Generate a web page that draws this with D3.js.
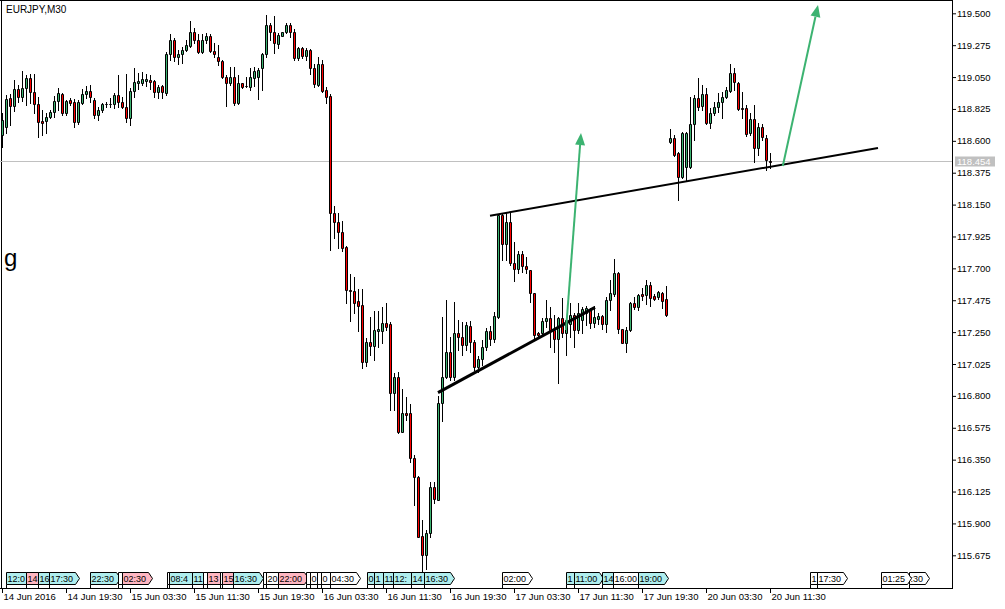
<!DOCTYPE html>
<html><head><meta charset="utf-8">
<script src="https://cdn.jsdelivr.net/npm/d3@7"></script>
<style>html,body{margin:0;padding:0;background:#fff;overflow:hidden}</style>
</head><body><svg id="c" width="1005" height="609"></svg>
<script>
const symbolTitle = "EURJPY,M30";
const chartNote = "g";
const open = [118.641,118.696,118.900,118.846,118.964,118.912,118.971,119.041,118.943,118.860,118.740,118.740,118.766,118.801,118.883,118.931,118.794,118.888,118.876,118.735,118.869,118.931,118.952,118.888,118.782,118.818,118.858,118.858,118.860,118.924,118.876,118.841,118.759,118.952,119.010,119.010,119.025,119.029,119.025,118.947,118.987,118.940,119.213,119.312,119.194,119.213,119.241,119.269,119.366,119.312,119.229,119.312,119.340,119.236,119.194,119.166,119.048,119.010,119.048,118.865,119.006,118.985,118.982,119.041,119.048,119.112,119.213,119.418,119.370,119.283,119.342,119.366,119.418,119.370,119.187,119.253,119.201,119.241,119.112,118.994,119.142,118.959,118.917,118.089,118.029,117.959,117.849,117.547,117.542,117.472,117.442,117.039,117.183,117.152,117.260,117.260,117.312,117.307,116.823,116.931,116.547,116.682,116.677,116.360,116.230,115.811,115.677,115.830,116.159,116.066,116.748,116.936,117.112,116.936,117.242,117.218,117.159,117.293,117.183,117.006,117.058,117.147,117.260,117.199,117.359,118.077,117.870,118.025,117.736,117.694,117.802,117.717,117.689,117.528,117.242,117.242,117.331,117.348,117.265,117.199,117.348,117.242,117.307,117.371,117.265,117.336,117.383,117.411,117.317,117.345,117.364,117.307,117.477,117.519,117.665,117.270,117.176,117.265,117.458,117.425,117.519,117.512,117.583,117.505,117.500,117.528,117.482,118.590,118.618,118.512,118.347,118.418,118.418,118.717,118.900,118.848,118.929,118.728,118.794,118.837,118.876,118.912,118.954,119.077,119.006,118.830,118.830,118.653,118.752,118.552,118.700,118.618,118.458];
const high = [118.797,118.924,118.931,119.029,118.994,119.095,119.065,119.072,119.072,118.907,118.818,118.794,118.818,118.917,118.971,118.936,118.888,118.900,118.893,118.888,118.964,118.987,118.994,118.900,118.841,118.869,118.876,118.900,118.936,119.065,118.912,119.072,118.971,119.112,119.081,119.088,119.072,119.065,119.029,118.994,118.994,119.229,119.354,119.324,119.241,119.264,119.312,119.448,119.394,119.354,119.354,119.359,119.354,119.288,119.276,119.171,119.065,119.123,119.123,119.065,119.010,119.053,119.112,119.123,119.112,119.222,119.488,119.434,119.481,119.363,119.370,119.434,119.434,119.387,119.264,119.264,119.253,119.246,119.142,119.194,119.171,118.982,118.931,118.140,118.089,118.034,117.858,117.660,117.637,117.552,117.552,117.209,117.357,117.401,117.401,117.430,117.454,117.322,116.964,116.971,116.847,116.794,116.743,116.383,116.235,115.924,115.854,116.195,116.195,116.799,117.355,117.477,117.218,117.463,117.336,117.322,117.322,117.329,117.195,117.082,117.195,117.279,117.293,117.392,118.085,118.085,118.089,118.089,117.888,117.825,117.825,117.782,117.689,117.528,117.253,117.348,117.477,117.430,117.371,117.359,117.489,117.359,117.454,117.387,117.454,117.430,117.434,117.418,117.434,117.387,117.371,117.500,117.618,117.764,117.677,117.270,117.284,117.465,117.496,117.519,117.559,117.618,117.606,117.519,117.542,117.535,117.576,118.684,118.641,118.523,118.662,118.665,118.912,118.924,119.041,118.994,118.971,118.834,118.876,118.936,118.947,118.982,119.142,119.112,119.013,118.947,118.853,118.794,118.853,118.724,118.717,118.641,118.516];
const low = [118.557,118.658,118.712,118.813,118.876,118.883,118.853,118.867,118.794,118.629,118.641,118.658,118.759,118.766,118.818,118.782,118.782,118.853,118.700,118.719,118.860,118.900,118.876,118.759,118.747,118.806,118.841,118.841,118.830,118.841,118.830,118.735,118.712,118.912,118.964,118.994,118.987,118.964,118.912,118.900,118.902,118.924,119.171,119.166,119.142,119.147,119.236,119.264,119.288,119.222,119.222,119.288,119.229,119.194,119.135,119.041,118.846,118.994,118.853,118.860,118.971,118.982,118.959,118.987,118.893,118.959,119.194,119.312,119.218,119.253,119.340,119.359,119.335,119.171,119.171,119.183,119.171,119.072,118.982,118.987,118.947,118.865,117.830,117.912,117.842,117.825,117.458,117.331,117.383,117.260,116.997,117.011,117.089,117.053,117.147,117.176,117.265,116.701,116.701,116.538,116.547,116.630,116.336,116.030,115.804,115.564,115.578,115.802,116.042,116.066,116.625,116.924,116.912,116.912,117.124,117.089,117.124,117.110,116.983,116.969,117.018,117.124,117.159,117.180,117.350,117.759,117.759,117.724,117.613,117.665,117.677,117.665,117.465,117.207,117.207,117.237,117.288,117.147,117.112,116.889,117.218,117.089,117.218,117.147,117.246,117.246,117.300,117.277,117.284,117.307,117.270,117.253,117.406,117.505,117.246,117.171,117.112,117.260,117.411,117.406,117.477,117.449,117.434,117.477,117.482,117.418,117.364,118.583,118.495,118.183,118.338,118.317,118.406,118.606,118.818,118.818,118.717,118.693,118.782,118.806,118.759,118.900,118.947,118.959,118.818,118.759,118.636,118.641,118.449,118.500,118.606,118.394,118.406];
const close = [118.747,118.893,118.846,118.964,118.912,118.971,119.041,118.943,118.860,118.731,118.728,118.766,118.801,118.883,118.936,118.794,118.883,118.869,118.735,118.876,118.931,118.952,118.912,118.782,118.818,118.860,118.862,118.862,118.924,118.876,118.841,118.759,118.952,119.017,119.022,119.036,119.034,119.017,118.947,118.978,118.947,119.213,119.312,119.190,119.213,119.241,119.276,119.366,119.312,119.229,119.312,119.340,119.236,119.213,119.166,119.048,119.006,119.048,118.869,119.010,118.982,118.988,119.048,119.093,119.100,119.213,119.418,119.370,119.288,119.347,119.366,119.418,119.370,119.183,119.253,119.201,119.241,119.112,118.999,119.142,118.954,118.907,118.089,118.029,117.959,117.842,117.547,117.538,117.458,117.437,117.039,117.183,117.152,117.265,117.272,117.312,117.288,116.823,116.931,116.547,116.682,116.667,116.360,116.230,115.806,115.677,115.830,116.159,116.070,116.748,116.936,117.112,116.936,117.242,117.218,117.159,117.300,117.183,117.006,117.058,117.147,117.260,117.199,117.364,118.077,117.870,118.025,117.736,117.694,117.802,117.717,117.694,117.528,117.230,117.230,117.331,117.348,117.265,117.199,117.348,117.246,117.336,117.371,117.265,117.387,117.411,117.418,117.317,117.355,117.364,117.307,117.477,117.524,117.665,117.270,117.176,117.265,117.458,117.425,117.512,117.505,117.583,117.489,117.486,117.535,117.472,117.371,118.618,118.500,118.347,118.653,118.653,118.717,118.900,118.841,118.929,118.728,118.794,118.837,118.876,118.912,118.959,119.077,119.017,118.825,118.823,118.648,118.752,118.547,118.700,118.627,118.465,118.454];

const priceTicks = [119.500,119.275,119.050,118.825,118.600,118.375,118.150,117.925,117.700,117.475,117.250,117.025,116.800,116.575,116.350,116.125,115.900,115.675];
const timeTickIndex = [0,16,32,48,64,80,96,112,128,144,160,176,192];
const timeTickLabels = ["14 Jun 2016","14 Jun 19:30","15 Jun 03:30","15 Jun 11:30","15 Jun 19:30","16 Jun 03:30","16 Jun 11:30","16 Jun 19:30","17 Jun 03:30","17 Jun 11:30","17 Jun 19:30","20 Jun 03:30","20 Jun 11:30"];

// drawn objects (bar index, price)
const trendStart = [[109,116.823],[122,118.072]];
const trendEnd   = [[148.25,117.425],[219,118.550]];
const arrowStart = [[141,117.265],[195.2,118.422]];
const arrowEnd   = [[144.75,118.655],[204,119.559]];

// event labels along the time axis (drawn in this order, later ones on top)
const eventIndex = [1,6,8.9,11.8,22,29.1,29.9,41.2,41.75,47.6,50.25,51.2,54.5,55.0,57.8,65.2,66,69.1,76,77,78.7,79.7,82,91.2,93,95.2,97.8,102.2,105.5,124.9,141,143,150.1,152.8,159.1,202,203.8,226.75,219.75];
const eventText = ["12:00","14:00","16:00","17:30","22:30","00:30","02:30","08:00","08:45","11:00","12:00","13:00","14:00","15:00","16:30","19:00","20:00","22:00","00:00","01:00","02:00","03:00","04:30","08:00","10:00","11:00","12:30","14:00","16:30","02:00","10:00","11:00","14:00","16:00","19:00","16:00","17:30",":30","01:25"];
const eventKind = ["b","r","b","b","b","w","r","w","b","b","w","r","w","r","b","w","w","r","w","w","w","w","w","b","b","b","b","b","b","w","b","b","b","w","b","w","w","w","w"];

const W = 1005, H = 609, plotRight = 952, axisY = 588;
const font = "'Liberation Sans', Arial, sans-serif";
const green = "#3cb371", red = "#ff0000";
const kindFill = {b:"#afeeee", r:"#ffb6c1", w:"#ffffff"};

const svg = d3.select("#c");
const x = d3.scaleLinear().domain([0, 192]).range([2, 770]);
const y = d3.scaleLinear().domain([115.675, 119.5]).range([555.3, 13.3]);

svg.append("rect").attr("width", W).attr("height", H).attr("fill", "#fff");

// frame
svg.append("line").attr("x1", 0).attr("x2", plotRight).attr("y1", 0.5).attr("y2", 0.5).attr("stroke", "#000");
svg.append("line").attr("x1", 1.5).attr("x2", 1.5).attr("y1", 0).attr("y2", axisY).attr("stroke", "#000");

// last price line
const lastPrice = close[close.length - 1];
const ly = Math.floor(y(lastPrice)) + 0.5;
svg.append("line").attr("x1", 0).attr("x2", plotRight).attr("y1", ly).attr("y2", ly).attr("stroke", "#c0c0c0");

// candles
const bars = d3.range(open.length).map(i => ({i, o: open[i], h: high[i], l: low[i], c: close[i]}));
const cg = svg.append("g");
cg.selectAll("line.w").data(bars).join("line").attr("class", "w")
  .attr("x1", d => Math.round(x(d.i)) + 0.5).attr("x2", d => Math.round(x(d.i)) + 0.5)
  .attr("y1", d => Math.round(y(d.h))).attr("y2", d => Math.round(y(d.l)) + 1)
  .attr("stroke", "#000").attr("stroke-width", 1);
cg.selectAll("path.b").data(bars).join("path").attr("class", "b")
  .attr("d", d => {
    const cx = Math.round(x(d.i));
    const yt = Math.round(y(Math.max(d.o, d.c))), yb = Math.round(y(Math.min(d.o, d.c)));
    return `M${cx - 0.5},${yt + 0.5}H${cx + 1.5}V${yb + 0.5}H${cx - 0.5}Z`;
  })
  .attr("fill", d => d.c >= d.o ? green : red)
  .attr("stroke", "#000").attr("stroke-width", 1);

// trend lines
const tw = [3, 2];
svg.selectAll("line.t").data(trendStart).join("line").attr("class", "t")
  .attr("x1", d => x(d[0])).attr("y1", d => y(d[1]))
  .attr("x2", (d, i) => x(trendEnd[i][0])).attr("y2", (d, i) => y(trendEnd[i][1]))
  .attr("stroke", "#000").attr("stroke-width", (d, i) => tw[i]);

// arrows
arrowStart.forEach((s, i) => {
  const e = arrowEnd[i];
  const x1 = x(s[0]), y1 = y(s[1]), x2 = x(e[0]), y2 = y(e[1]);
  const a = Math.atan2(y2 - y1, x2 - x1);
  const L = 12, hw = 5;
  const bx = x2 - L * Math.cos(a), by = y2 - L * Math.sin(a);
  svg.append("line").attr("x1", x1).attr("y1", y1).attr("x2", bx).attr("y2", by)
    .attr("stroke", green).attr("stroke-width", 2);
  const px = -Math.sin(a), py = Math.cos(a);
  svg.append("path").attr("d", `M${x2},${y2}L${bx + px * hw},${by + py * hw}L${bx - px * hw},${by - py * hw}Z`)
    .attr("fill", green);
});

// right price axis
svg.append("line").attr("x1", plotRight + 0.5).attr("x2", plotRight + 0.5).attr("y1", 0).attr("y2", axisY + 1).attr("stroke", "#000");
const ya = svg.append("g").attr("transform", `translate(${plotRight},0)`)
  .call(d3.axisRight(y).tickValues(priceTicks).tickSize(4).tickPadding(1).tickFormat(d3.format(".3f")));
ya.select(".domain").remove();
ya.selectAll("text").attr("font-family", font).attr("font-size", "9.5px").attr("fill", "#000");

// last price label
const lbl = svg.append("g");
lbl.append("rect").attr("x", 955).attr("y", ly - 5).attr("width", 40).attr("height", 10).attr("fill", "#c0c0c0");
lbl.append("text").attr("x", 957).attr("y", ly).attr("dy", "0.34em").text(d3.format(".3f")(lastPrice))
  .attr("font-family", font).attr("font-size", "9.5px").attr("fill", "#fff");

// bottom time axis
svg.append("line").attr("x1", 0).attr("x2", plotRight + 1).attr("y1", axisY + 0.5).attr("y2", axisY + 0.5).attr("stroke", "#000");
const xa = svg.append("g").attr("transform", `translate(0,${axisY})`)
  .call(d3.axisBottom(x).tickValues(timeTickIndex).tickSize(5).tickFormat((d, i) => timeTickLabels[i]));
xa.select(".domain").remove();
xa.selectAll("text").attr("text-anchor", "start").attr("x", 1).attr("y", 12).attr("dy", 0)
  .attr("font-family", font).attr("font-size", "9.5px").attr("fill", "#000");

// event boxes: texts are cut where a later box covers them
const boxFont = "9px";
const meas = svg.append("text").attr("font-family", font).attr("font-size", boxFont).attr("x", -100).attr("y", -100);
const textW = s => { if (!s) return 0; meas.text(s); return meas.node().getComputedTextLength(); };
const boxes = eventIndex.map((k, i) => ({x0: Math.round(x(k)), text: eventText[i], kind: eventKind[i]}));
boxes.forEach(b => { b.w = Math.ceil(textW(b.text)) + 3; b.x1 = b.x0 + b.w + 4; });
boxes.forEach((b, i) => {
  let right = Infinity;
  for (let j = i + 1; j < boxes.length; j++) {
    const o = boxes[j];
    if (o.x0 >= b.x0 && o.x0 < b.x1) right = Math.min(right, o.x0);
  }
  let s = b.text;
  while (s.length && b.x0 + 1.5 + textW(s) > right + 1) s = s.slice(0, -1);
  b.shown = s;
});
meas.remove();
const eg = svg.append("g");
boxes.forEach(b => {
  const g = eg.append("g");
  g.append("path")
    .attr("d", `M${b.x0 + 0.5},572.5H${b.x0 + b.w + 0.5}L${b.x0 + b.w + 4.5},578.5L${b.x0 + b.w + 0.5},584.5H${b.x0 + 0.5}Z`)
    .attr("fill", kindFill[b.kind]).attr("stroke", "#000").attr("stroke-width", 1);
  if (b.shown) g.append("text").attr("x", b.x0 + 1.5).attr("y", 582).text(b.shown)
    .attr("font-family", font).attr("font-size", boxFont).attr("fill", "#000");
  g.append("line").attr("x1", b.x0 + 0.5).attr("x2", b.x0 + 0.5).attr("y1", 584.5).attr("y2", axisY)
    .attr("stroke", "#000");
});

// title and note
svg.append("text").attr("x", 6).attr("y", 12.5).text(symbolTitle)
  .attr("font-family", font).attr("font-size", "10px").attr("fill", "#000");
svg.append("text").attr("x", 4).attr("y", 266).text(chartNote)
  .attr("font-family", font).attr("font-size", "24px").attr("fill", "#000");
</script></body></html>
